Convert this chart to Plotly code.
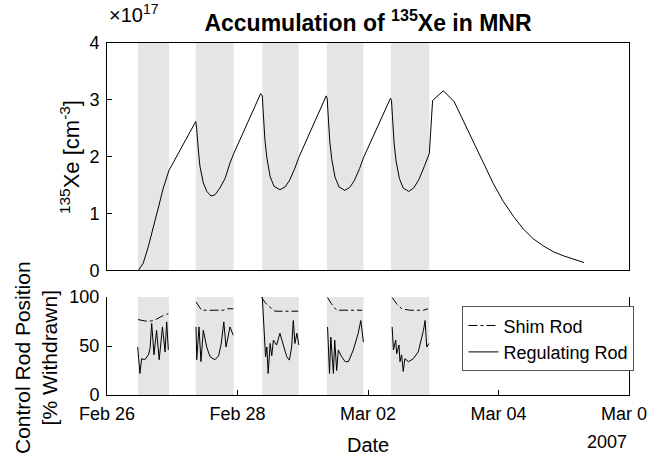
import pandas as pd
import plotly.graph_objects as go

BASE = pd.Timestamp("2007-02-26")

# Reactor-operation windows (days after Feb 26 00:00)
band_start = [0.475, 1.36, 2.38, 3.37, 4.35]
band_end = [0.95, 1.94, 2.94, 3.93, 4.94]

# Xe-135 concentration (x 1e17 cm^-3)
xe_day = [0.48, 0.556, 0.633, 0.71, 0.786, 0.863, 0.93, 0.95,
          1.36, 1.375, 1.40, 1.425, 1.476, 1.53, 1.594, 1.655, 1.73, 1.81, 1.885, 1.94,
          2.355, 2.38, 2.395, 2.42, 2.45, 2.50, 2.56, 2.65, 2.73, 2.80, 2.88, 2.94,
          3.36, 3.375, 3.39, 3.415, 3.445, 3.495, 3.555, 3.645, 3.72, 3.79, 3.87, 3.93,
          4.345, 4.36, 4.375, 4.40, 4.43, 4.48, 4.54, 4.625, 4.70, 4.78, 4.87, 4.94,
          4.99, 5.155, 5.32, 5.46, 5.61, 5.77, 5.92, 6.07, 6.23, 6.38, 6.53, 6.69,
          6.84, 6.99, 7.15, 7.31]
xe_val = [0.0, 0.13, 0.42, 0.74, 1.10, 1.45, 1.71, 1.76,
          2.62, 2.48, 2.12, 1.83, 1.54, 1.39, 1.31, 1.33, 1.45, 1.62, 1.89, 2.05,
          3.11, 3.07, 2.77, 2.30, 1.98, 1.65, 1.48, 1.42, 1.47, 1.59, 1.80, 1.99,
          3.07, 3.02, 2.72, 2.26, 1.95, 1.64, 1.47, 1.41, 1.46, 1.58, 1.79, 1.98,
          3.03, 2.99, 2.70, 2.24, 1.93, 1.62, 1.45, 1.39, 1.45, 1.60, 1.85, 2.06,
          2.99, 3.16, 2.97, 2.64, 2.26, 1.88, 1.53, 1.22, 0.95, 0.73, 0.56, 0.43,
          0.33, 0.26, 0.20, 0.14]

# Shim rod position (% withdrawn), one list per operating window
shim_day = [
    [0.475, 0.58, 0.685, 0.76, 0.86, 0.94],
    [1.364, 1.45, 1.78, 1.835, 1.935],
    [2.37, 2.42, 2.47, 2.575, 2.93],
    [3.38, 3.44, 3.52, 3.91],
    [4.37, 4.44, 4.52, 4.64, 4.85, 4.92],
]
shim_val = [
    [77, 75.5, 75.5, 77.5, 81, 83],
    [95, 86.5, 86.5, 88, 88],
    [99.7, 94.6, 91, 85.5, 85.5],
    [99.4, 93, 86.5, 86.5],
    [99.4, 93, 88, 86.5, 86.5, 88],
]

# Regulating rod position (% withdrawn)
reg_day = [
    [0.47, 0.505, 0.53, 0.58, 0.635, 0.66, 0.685, 0.72, 0.76, 0.80, 0.85, 0.89, 0.915, 0.94],
    [1.364, 1.375, 1.41, 1.44, 1.476, 1.528, 1.58, 1.655, 1.71, 1.75, 1.79, 1.824, 1.885, 1.935],
    [2.38, 2.43, 2.45, 2.47, 2.50, 2.525, 2.55, 2.60, 2.65, 2.70, 2.755, 2.795, 2.83, 2.855, 2.88, 2.91, 2.94],
    [3.38, 3.41, 3.43, 3.47, 3.49, 3.52, 3.545, 3.597, 3.65, 3.70, 3.775, 3.85, 3.89, 3.93],
    [4.37, 4.39, 4.425, 4.44, 4.475, 4.49, 4.515, 4.54, 4.565, 4.62, 4.695, 4.77, 4.85, 4.875, 4.90, 4.935],
]
reg_val = [
    [49, 22, 37, 36, 41, 47.5, 73, 41, 66, 36, 69.5, 44, 74.6, 46],
    [69.5, 36, 69.5, 34, 66, 49, 39, 36, 40, 52, 74.6, 49, 69.5, 61],
    [100, 39, 49, 22, 52.6, 40, 56, 51, 63, 51, 39, 35.6, 49, 76, 52.6, 63, 51],
    [69.5, 22, 59, 22, 56, 25, 46, 39, 34, 34, 46, 63, 76, 54],
    [69.5, 46, 56, 42, 51, 34, 41, 24, 37, 34, 37, 44, 66, 76, 49, 52.6],
]

x_ticks = ["2007-02-26", "2007-02-28", "2007-03-02", "2007-03-04", "2007-03-06"]
x_ticklabels = ["Feb 26", "Feb 28", "Mar 02", "Mar 04", "Mar 06"]


def to_time(days):
    return [BASE + pd.to_timedelta(d, unit="D") for d in days]


def join_segments(day_lists, val_lists):
    xs, ys = [], []
    for d, v in zip(day_lists, val_lists):
        xs += to_time(d) + [None]
        ys += list(v) + [None]
    return xs, ys


FONT = "Liberation Sans, Arial, Helvetica, sans-serif"
TICKFONT = dict(family=FONT, size=18, color="black")

fig = go.Figure()
fig.add_trace(go.Scatter(x=to_time(xe_day), y=xe_val, mode="lines",
                         line=dict(color="black", width=1), showlegend=False,
                         xaxis="x", yaxis="y"))
sx, sy = join_segments(shim_day, shim_val)
fig.add_trace(go.Scatter(x=sx, y=sy, mode="lines", name="Shim Rod",
                         line=dict(color="black", width=1, dash="dashdot"),
                         xaxis="x2", yaxis="y2"))
rx, ry = join_segments(reg_day, reg_val)
fig.add_trace(go.Scatter(x=rx, y=ry, mode="lines", name="Regulating Rod",
                         line=dict(color="black", width=1),
                         xaxis="x2", yaxis="y2"))

shapes = []
for s, e in zip(band_start, band_end):
    for xr, yr in (("x", "y domain"), ("x2", "y2 domain")):
        shapes.append(dict(type="rect", xref=xr, yref=yr,
                           x0=BASE + pd.to_timedelta(s, unit="D"),
                           x1=BASE + pd.to_timedelta(e, unit="D"),
                           y0=0, y1=1, fillcolor="#e5e5e5",
                           line=dict(width=0), layer="below"))

xrange = [pd.Timestamp("2007-02-26"), pd.Timestamp("2007-03-06")]
common_x = dict(type="date", range=xrange, tickvals=x_ticks, ticktext=x_ticklabels,
                showgrid=False, zeroline=False, showline=True, linecolor="black",
                linewidth=1, ticks="inside", ticklen=5, tickcolor="black",
                tickfont=TICKFONT, ticklabeloverflow="allow", automargin=False)

fig.update_layout(
    width=647, height=456,
    margin=dict(l=107, r=18, t=43, b=61, autoexpand=False),
    paper_bgcolor="white", plot_bgcolor="white",
    font=dict(family=FONT, color="black"),
    title=dict(text="<b>Accumulation of <sup>135</sup>Xe in MNR</b>",
               x=0.5, xref="paper", xanchor="center",
               y=1 - 23 / 456, yanchor="middle",
               font=dict(family=FONT, size=23, color="black")),
    xaxis=dict(common_x, anchor="y", showticklabels=False, ticks="", mirror=True),
    yaxis=dict(domain=[0.3537, 1.0], range=[0, 4], tickvals=[0, 1, 2, 3, 4],
               showgrid=False, zeroline=False, showline=True, linecolor="black",
               linewidth=1, mirror=True, ticks="inside", ticklen=5, automargin=False,
               tickcolor="black", tickfont=TICKFONT, ticklabelstandoff=3),
    xaxis2=dict(common_x, anchor="y2", matches="x", ticklabelstandoff=2),
    yaxis2=dict(domain=[0.0, 0.2784], range=[0, 100], tickvals=[0, 50, 100],
                showgrid=False, zeroline=False, showline=True, linecolor="black",
                linewidth=1, ticks="inside", ticklen=5, anchor="x2", automargin=False,
                mirror=True,
                tickcolor="black", tickfont=TICKFONT, ticklabelstandoff=3),
    shapes=shapes,
    legend=dict(x=0.681, y=0.252, xanchor="left", yanchor="top",
                bgcolor="white", bordercolor="#555", borderwidth=1,
                font=dict(family=FONT, size=18, color="black"),
                itemwidth=30, tracegroupgap=0),
    annotations=[
        dict(text="×10<sup>17</sup>", xref="paper", yref="paper", x=0, y=1.085,
             xanchor="left", yanchor="middle", showarrow=False,
             font=dict(family=FONT, size=20, color="black")),
        dict(text="<sup>135</sup>Xe [cm<sup>-3</sup>]", xref="paper", yref="paper",
             x=(70 - 107) / 522, y=(395 - 157) / 352, textangle=-90,
             xanchor="center", yanchor="middle", showarrow=False,
             font=dict(family=FONT, size=22, color="black")),
        dict(text="Control Rod Position<br>[% Withdrawn]", xref="paper", yref="paper",
             x=(36 - 107) / 522, y=(395 - 358) / 352, textangle=-90,
             xanchor="center", yanchor="middle", showarrow=False,
             font=dict(family=FONT, size=21, color="black")),
        dict(text="Date", xref="paper", yref="paper",
             x=0.5, y=(395 - 445) / 352, xanchor="center", yanchor="middle",
             showarrow=False, font=dict(family=FONT, size=20, color="black")),
        dict(text="2007", xref="paper", yref="paper",
             x=1.0, y=(395 - 442) / 352, xanchor="right", yanchor="middle",
             showarrow=False, font=dict(family=FONT, size=18, color="black")),
    ],
)

fig.write_html("out.html")
